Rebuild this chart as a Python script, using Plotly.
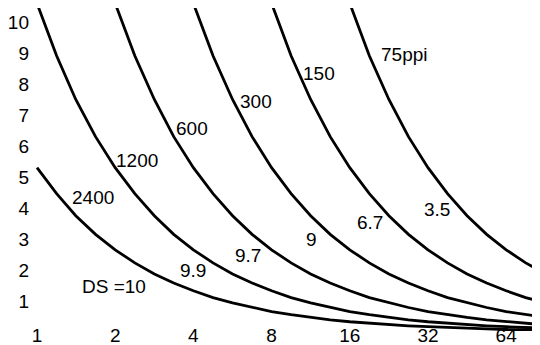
import math
import plotly.graph_objects as go

# x grid (quarter-octave steps)
x_vals = [1.00, 1.19, 1.41, 1.68, 2.00, 2.38, 2.83, 3.36, 4.00, 4.76, 5.66, 6.73,
          8.00, 9.51, 11.31, 13.45, 16.00, 19.03, 22.63, 26.91, 32.00, 38.05,
          45.25, 53.82, 64.00, 76.11, 90.51]

ppi_2400 = [5.30, 4.46, 3.75, 3.15, 2.65, 2.23, 1.87, 1.58, 1.33, 1.11, 0.94, 0.79,
            0.66, 0.56, 0.47, 0.39, 0.33, 0.28, 0.23, 0.20, 0.17, 0.14, 0.12, 0.10,
            0.08, 0.07, 0.06]
ppi_1200 = [10.60, 8.91, 7.50, 6.30, 5.30, 4.46, 3.75, 3.15, 2.65, 2.23, 1.87, 1.58,
            1.33, 1.11, 0.94, 0.79, 0.66, 0.56, 0.47, 0.39, 0.33, 0.28, 0.23, 0.20,
            0.17, 0.14, 0.12]
ppi_600 = [21.20, 17.83, 14.99, 12.61, 10.60, 8.91, 7.50, 6.30, 5.30, 4.46, 3.75, 3.15,
           2.65, 2.23, 1.87, 1.58, 1.33, 1.11, 0.94, 0.79, 0.66, 0.56, 0.47, 0.39,
           0.33, 0.28, 0.23]
ppi_300 = [42.40, 35.65, 29.98, 25.21, 21.20, 17.83, 14.99, 12.61, 10.60, 8.91, 7.50, 6.30,
           5.30, 4.46, 3.75, 3.15, 2.65, 2.23, 1.87, 1.58, 1.33, 1.11, 0.94, 0.79,
           0.66, 0.56, 0.47]
ppi_150 = [84.80, 71.30, 59.96, 50.42, 42.40, 35.65, 29.98, 25.21, 21.20, 17.83, 14.99, 12.61,
           10.60, 8.91, 7.50, 6.30, 5.30, 4.46, 3.75, 3.15, 2.65, 2.23, 1.87, 1.58,
           1.33, 1.11, 0.94]
ppi_75 = [169.6, 142.6, 119.9, 100.8, 84.80, 71.30, 59.96, 50.42, 42.40, 35.65, 29.98, 25.21,
          21.20, 17.83, 14.99, 12.61, 10.60, 8.91, 7.50, 6.30, 5.30, 4.46, 3.75, 3.15,
          2.65, 2.23, 1.87]

series = [ppi_2400, ppi_1200, ppi_600, ppi_300, ppi_150, ppi_75]

x_ticks = [1, 2, 4, 8, 16, 32, 64]
y_ticks = [1, 2, 3, 4, 5, 6, 7, 8, 9, 10]

label_text = ["75ppi", "150", "300", "600", "1200", "2400",
              "DS =10", "9.9", "9.7", "9", "6.7", "3.5"]
label_x = [26.1, 12.18, 6.97, 3.95, 2.43, 1.64, 1.98, 3.99, 6.49, 11.35, 19.14, 34.66]
label_y = [8.94, 8.35, 7.45, 6.55, 5.52, 4.35, 1.48, 1.97, 2.48, 2.97, 3.52, 3.94]

FONT = "Liberation Sans, Arial, sans-serif"
FS = 19

fig = go.Figure()
for ys in series:
    fig.add_trace(go.Scatter(x=x_vals, y=ys, mode="lines",
                             line=dict(color="black", width=2.8),
                             showlegend=False, hoverinfo="skip"))

for t, lx, ly in zip(label_text, label_x, label_y):
    fig.add_annotation(x=math.log10(lx), y=ly, text=t, showarrow=False,
                       font=dict(family=FONT, size=FS, color="black"))

# the page body adds an 8px offset, so the figure is sized to fit the window
fig.update_layout(
    width=532, height=337,
    margin=dict(l=22, r=0, t=0, b=14),
    paper_bgcolor="white", plot_bgcolor="white",
    font=dict(family=FONT, size=FS, color="black"),
    xaxis=dict(type="log", range=[-0.0269, 1.9364], tickvals=x_ticks,
               ticktext=[str(v) for v in x_ticks], showgrid=False, zeroline=False,
               showline=False, ticks="", automargin=False, ticklabelstandoff=-9,
               tickfont=dict(family=FONT, size=FS, color="black")),
    yaxis=dict(range=[0.032, 10.45], tickvals=y_ticks, showgrid=False,
               zeroline=False, showline=False, ticks="", automargin=False,
               tickfont=dict(family=FONT, size=FS, color="black")),
)

fig.write_html("out.html")
